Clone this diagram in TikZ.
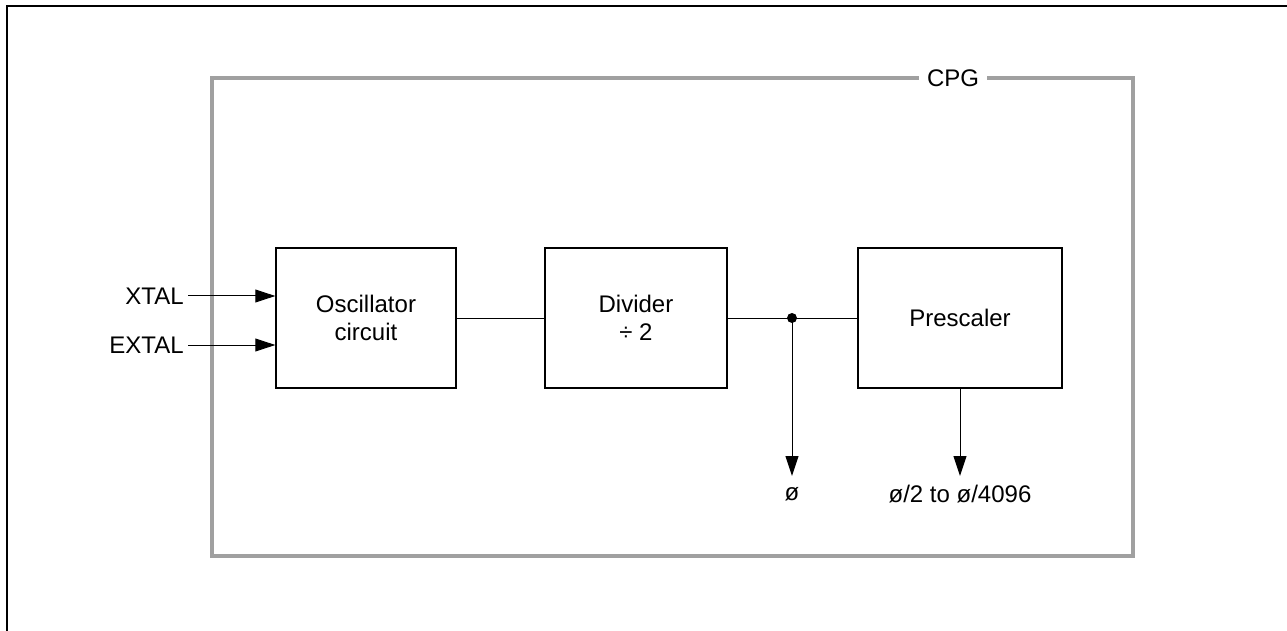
\documentclass[tikz,border=0pt]{standalone}
\usepackage{fontspec}
\setmainfont{Liberation Sans}
\usetikzlibrary{arrows.meta,calc,positioning}
\definecolor{framegray}{HTML}{A0A0A0}

\begin{document}
\begin{tikzpicture}[x=0.5pt,y=-0.5pt,font=\fontsize{12}{14}\selectfont,
 blk/.style={draw,line width=.7pt,minimum height=70pt,align=center,inner sep=0pt},
 arr/.style={-{Triangle[length=10pt,width=6.5pt]},line width=.5pt},
 lnk/.style={line width=.5pt}]
 \useasboundingbox(0,0)rectangle(1287,631);
 \draw[line width=1.2pt](7,631)|-(1287,6);
 % CPG frame
 \draw[framegray,line width=1.6pt](212,78)rectangle(1133,556);
 \node[fill=white,inner sep=4pt](cpg)at(953,78){CPG};
 % blocks
 \node[blk,minimum width=90pt](osc)at(366,318){Oscillator\\circuit};
 \node[blk,minimum width=91pt](div)at(636,318){Divider\\÷ 2};
 \node[blk,minimum width=102pt](pre)at(960,318){Prescaler};
 % inputs
 \node[anchor=east,inner sep=2pt](xtal)at(188,296){XTAL};
 \node[anchor=east,inner sep=2pt](extal)at(188,345){EXTAL};
 \draw[arr](xtal)--(xtal-|osc.west);
 \draw[arr](extal)--(extal-|osc.west);
 % clock path
 \coordinate(jn)at(792,318);
 \draw[lnk](osc)--(div);
 \draw[lnk](div)--(pre);
 \fill(jn)circle(5);
 \node(phi)at(792,494){ø};
 \node(phin)at(960,494){ø/2 to ø/4096};
 \draw[arr](jn)--(jn|-0,476);
 \draw[arr](pre)--(pre|-0,476);
\end{tikzpicture}
\end{document}
